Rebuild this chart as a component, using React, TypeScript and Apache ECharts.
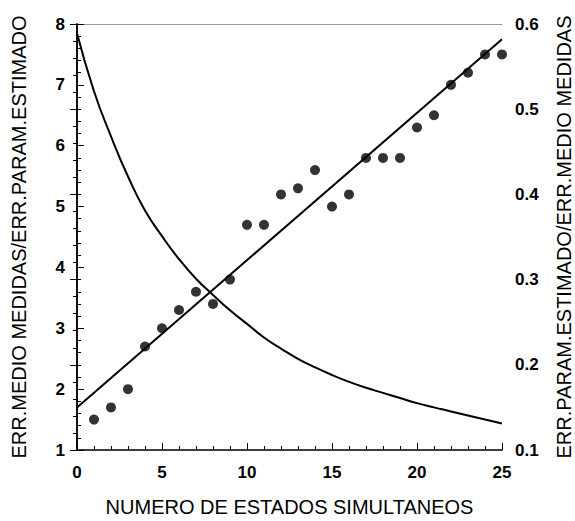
import React, { useEffect, useRef } from "react";
import * as echarts from "echarts";

// Measured points: number of simultaneous states vs ratio (left axis)
const statesX = [1, 2, 3, 4, 5, 6, 7, 8, 9, 10, 11, 12, 13, 14, 15, 16, 17, 18, 19, 20, 21, 22, 23, 24, 25];
const ratioMeasured = [1.5, 1.7, 2.0, 2.7, 3.0, 3.3, 3.6, 3.4, 3.8, 4.7, 4.7, 5.2, 5.3, 5.6, 5.0, 5.2, 5.8, 5.8, 5.8, 6.3, 6.5, 7.0, 7.2, 7.5, 7.5];

// Fitted straight line (left axis)
const fitX = [0, 25];
const fitY = [1.7, 7.75];

// Inverse ratio curve (right axis), read at each integer state count
const curveX = [0, 1, 2, 3, 4, 5, 6, 7, 8, 9, 10, 11, 12, 13, 14, 15, 16, 17, 18, 19, 20, 21, 22, 23, 24, 25];
const curveY = [0.589, 0.521, 0.468, 0.421, 0.381, 0.351, 0.324, 0.301, 0.282, 0.264, 0.248, 0.232, 0.219, 0.207, 0.197, 0.188, 0.180, 0.173, 0.167, 0.161, 0.155, 0.150, 0.1453, 0.1405, 0.1357, 0.131];

const FONT = "'Liberation Sans', Arial, Helvetica, sans-serif";

export default function App() {
  const ref = useRef<HTMLDivElement>(null);

  useEffect(() => {
    document.body.style.margin = "0";
    if (!ref.current) return;
    const chart = echarts.init(ref.current, undefined, { renderer: "svg" });

    const axisLabel = { color: "#000", fontSize: 17, fontFamily: FONT, fontWeight: "bold" };
    const nameStyle = { color: "#000", fontSize: 20, fontFamily: FONT };

    chart.setOption({
      animation: false,
      backgroundColor: "#fff",
      grid: { left: 77, right: 73, top: 24, bottom: 71, containLabel: false, outerBoundsMode: "none" },
      xAxis: [
        {
          type: "value",
          min: 0,
          max: 25,
          interval: 5,
          name: "NUMERO DE ESTADOS SIMULTANEOS",
          nameLocation: "middle",
          nameGap: 47,
          nameTextStyle: nameStyle,
          axisLine: { show: true, lineStyle: { color: "#000", width: 1.5 } },
          axisTick: { show: true, inside: true, length: 7, lineStyle: { color: "#000" } },
          minorTick: { show: true, splitNumber: 5, length: 4, lineStyle: { color: "#000" } },
          axisLabel: { ...axisLabel, margin: 14 },
          splitLine: { show: false },
        },
        {
          type: "value",
          position: "top",
          min: 0,
          max: 25,
          interval: 5,
          axisLine: { show: true, lineStyle: { color: "#999", width: 1 } },
          axisTick: { show: false },
          axisLabel: { show: false },
          splitLine: { show: false },
        },
      ],
      yAxis: [
        {
          type: "value",
          min: 1,
          max: 8,
          interval: 1,
          name: "ERR.MEDIO MEDIDAS/ERR.PARAM.ESTIMADO",
          nameLocation: "middle",
          nameRotate: 90,
          nameGap: 48,
          nameTextStyle: nameStyle,
          axisLine: { show: true, lineStyle: { color: "#000", width: 1.5 } },
          axisTick: { show: true, inside: true, length: 7, lineStyle: { color: "#000" } },
          minorTick: { show: true, splitNumber: 5, length: 4, lineStyle: { color: "#000" } },
          axisLabel: { ...axisLabel, margin: 12 },
          splitLine: { show: false },
        },
        {
          type: "value",
          position: "right",
          min: 0.1,
          max: 0.6,
          interval: 0.1,
          name: "ERR.PARAM.ESTIMADO/ERR.MEDIO MEDIDAS",
          nameLocation: "middle",
          nameRotate: 90,
          nameGap: 52,
          nameTextStyle: nameStyle,
          axisLine: { show: true, lineStyle: { color: "#000", width: 1.5 } },
          axisTick: { show: true, inside: true, length: 7, lineStyle: { color: "#000" } },
          minorTick: { show: true, splitNumber: 5, length: 4, lineStyle: { color: "#000" } },
          axisLabel: { ...axisLabel, margin: 13, formatter: (v: number) => v.toFixed(1) },
          splitLine: { show: false },
        },
      ],
      series: [
        {
          type: "scatter",
          xAxisIndex: 0,
          yAxisIndex: 0,
          symbol: "circle",
          symbolSize: 10,
          itemStyle: { color: "#000" },
          data: statesX.map((x, i) => [x, ratioMeasured[i]]),
          z: 3,
        },
        {
          type: "line",
          xAxisIndex: 0,
          yAxisIndex: 0,
          showSymbol: false,
          lineStyle: { color: "#000", width: 2 },
          data: fitX.map((x, i) => [x, fitY[i]]),
        },
        {
          type: "line",
          xAxisIndex: 0,
          yAxisIndex: 1,
          smooth: 0.5,
          showSymbol: false,
          lineStyle: { color: "#000", width: 2 },
          data: curveX.map((x, i) => [x, curveY[i]]),
        },
      ],
    });

    return () => chart.dispose();
  }, []);

  return <div ref={ref} style={{ width: 575, height: 521 }} />;
}
